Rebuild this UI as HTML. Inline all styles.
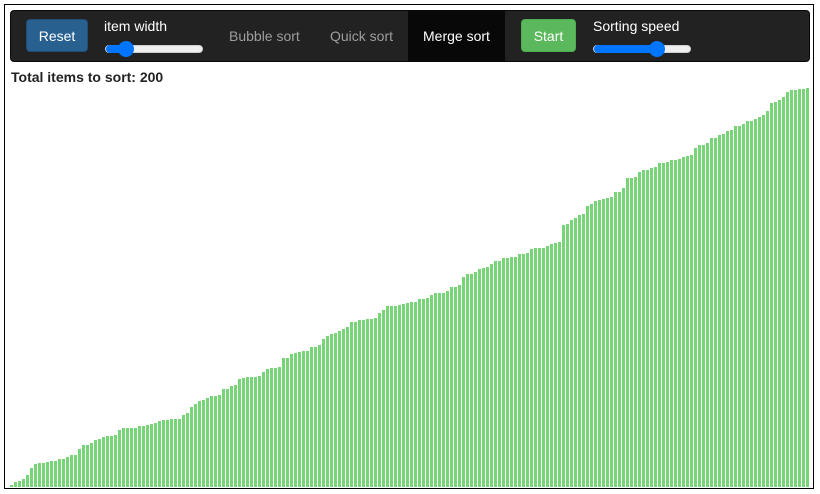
<!DOCTYPE html>
<html><head><meta charset="utf-8"><style>
body{margin:0;width:820px;height:494px;background:#fff;font-family:"Liberation Sans",sans-serif;position:relative;overflow:hidden}
#frame{position:absolute;left:4px;top:4px;width:810px;height:485px;border:1px solid #000;box-sizing:border-box}
#nav{position:absolute;left:10px;top:10px;width:800px;height:52px;background:#222;border:1px solid #080808;border-radius:4px;box-sizing:border-box}
.btn{position:absolute;top:19px;height:33px;border-radius:4px;color:#fff;font-size:14px;line-height:33px;text-align:center}
.lbl{position:absolute;color:#fff;font-size:14px}
.link{position:absolute;top:28px;color:#9d9d9d;font-size:14px}
.track{position:absolute;height:8px;background:#efefef;border-radius:4px;border:1px solid #cfcfcf;box-sizing:border-box}
.fill{position:absolute;left:0;top:-1px;height:8px;background:#0075ff;border-radius:4px}
.thumb{position:absolute;top:-5px;width:16px;height:16px;border-radius:50%;background:#0075ff}
</style></head><body>
<div id="frame"></div>
<div id="nav"></div>
<div class="btn" style="left:26px;width:62px;background:#286090;border:1px solid #204d74;box-sizing:border-box">Reset</div>
<div class="lbl" style="left:104px;top:18px">item width</div>
<div class="track" style="left:105px;top:45px;width:98px"><div class="fill" style="width:22px"></div><div class="thumb" style="left:12px"></div></div>
<div class="link" style="left:229px">Bubble sort</div>
<div class="link" style="left:330px">Quick sort</div>
<div style="position:absolute;left:408px;top:11px;width:97px;height:50px;background:#080808"></div>
<div class="link" style="left:423px;color:#fff">Merge sort</div>
<div class="btn" style="left:521px;width:55px;background:#5cb85c;border:1px solid #4cae4c;box-sizing:border-box">Start</div>
<div class="lbl" style="left:593px;top:18px">Sorting speed</div>
<div class="track" style="left:593px;top:45px;width:98px"><div class="fill" style="width:66px"></div><div class="thumb" style="left:55px"></div></div>
<div style="position:absolute;left:11px;top:69px;font-size:14px;font-weight:bold;color:#222">Total items to sort: 200</div>
<svg id="chart" width="820" height="494" style="position:absolute;left:0;top:0"></svg>
<script>
const values=[2,5,6,8,12,19,23,24,24,25,26,26,28,28,30,32,32,38,42,42,44,47,48,50,51,51,52,57,59,59,59,59,61,61,62,63,64,66,67,67,68,68,68,72,74,80,83,86,87,89,91,91,
92,98,98,101,102,108,109,110,110,110,111,115,118,119,119,120,129,129,133,134,135,136,136,140,140,142,148,151,153,154,156,158,160,165,165,167,167,168,168,169,174,177,181,181,181,182,183,184,185,185,
188,188,189,192,194,194,194,196,200,200,202,210,213,213,215,218,219,220,223,226,226,229,229,230,230,233,233,234,238,239,239,239,241,243,244,245,262,263,267,269,272,273,281,283,286,287,288,289,290,295,
295,299,309,309,310,315,317,317,319,320,324,324,325,327,327,328,330,331,332,339,342,342,344,349,349,352,353,356,357,361,361,363,366,366,368,370,372,376,384,385,387,390,395,397,397,398,398,399];
const svg=document.getElementById('chart');
const x0=10,pitch=4,bw=3,base=487;
const xs=i=>x0+i*pitch, ys=v=>base-v;
values.forEach((v,i)=>{
 const r=document.createElementNS('http://www.w3.org/2000/svg','rect');
 r.setAttribute('x',xs(i));r.setAttribute('y',ys(v));r.setAttribute('width',bw);r.setAttribute('height',v);r.setAttribute('fill','#77d577');
 
 
 svg.appendChild(r);
});
</script>
</body></html>
